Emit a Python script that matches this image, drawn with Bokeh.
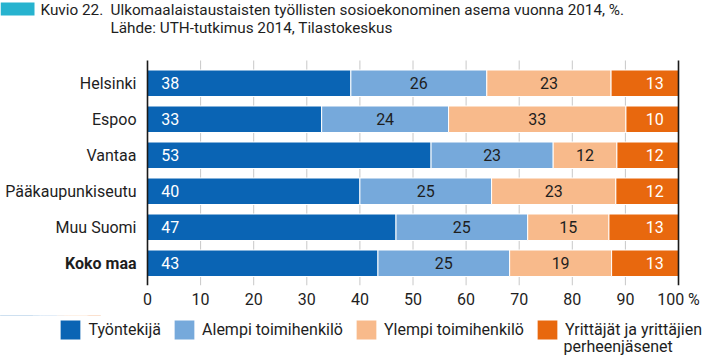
from bokeh.plotting import figure
from bokeh.layouts import column
from bokeh.models import (ColumnDataSource, Range1d, FixedTicker, Legend, LegendItem,
                          BoxAnnotation)
from bokeh.core.properties import value
from bokeh.embed import file_html
from bokeh.resources import INLINE

# ---------------- data ----------------
categories = ["Helsinki", "Espoo", "Vantaa", "Pääkaupunkiseutu", "Muu Suomi", "Koko maa"]
tyontekija = [38.3, 32.8, 53.4, 40.0, 46.8, 43.4]
alempi = [25.6, 23.9, 23.0, 24.8, 24.8, 24.8]
ylempi = [23.4, 33.4, 12.0, 23.4, 15.3, 19.2]
yrittajat = [12.7, 9.9, 11.6, 11.8, 13.1, 12.6]
series_labels = ["Työntekijä", "Alempi toimihenkilö", "Ylempi toimihenkilö",
                 "Yrittäjät ja yrittäjien", "perheenjäsenet"]
x_ticks = [0, 10, 20, 30, 40, 50, 60, 70, 80, 90, 100]
x_tick_labels = ["0", "10", "20", "30", "40", "50", "60", "70", "80", "90", "100 %"]
title_no = "Kuvio 22."
title_text = "Ulkomaalaistaustaisten työllisten sosioekonominen asema vuonna 2014, %."
source_text = "Lähde: UTH-tutkimus 2014, Tilastokeskus"
bold_category = "Koko maa"

# ---------------- style ----------------
colors = ["#0a64b4", "#76a9db", "#f8ba8b", "#e8680e"]
label_colors = ["white", "#1e1e1e", "#1e1e1e", "white"]
FONT = "Roboto"
FS = "16px"
TFS = "15.3px"
TXT = "#1e1e1e"

W, H = 703, 355
MAIN_H = 315
FL, FR, FT, FB = 147, 678, 60, 285          # chart area edges in pixels
Y_LO, Y_HI = -0.618, 5.632
XPU = (FR - FL) / 100.0
YPU = (FB - FT) / (Y_HI - Y_LO)


def dx(px):
    return (px - FL) / XPU


def dy(py):
    return Y_LO + (FB - py) / YPU


n = len(categories)
ys = [n - 1 - i for i in range(n)]
series = [tyontekija, alempi, ylempi, yrittajat]
keys = ["s0", "s1", "s2", "s3"]
src = ColumnDataSource(dict(y=ys, cat=categories, **{k: v for k, v in zip(keys, series)}))

p = figure(width=W, height=MAIN_H, output_backend="svg", toolbar_location=None,
           x_range=Range1d(dx(0), dx(W)), y_range=Range1d(Y_LO, dy(0)), title=None,
           y_axis_location=None,
           min_border_left=0, min_border_right=0, min_border_top=0,
           min_border_bottom=MAIN_H - FB)
p.outline_line_color = None
p.background_fill_color = "white"
p.border_fill_color = "white"
p.xgrid.visible = False
p.ygrid.visible = False

# grid lines (between the axis lines) and the 0 / 100 lines
inner = x_ticks[1:-1]
p.segment(x0=inner, y0=[Y_LO] * len(inner), x1=inner, y1=[Y_HI] * len(inner),
          line_color="#c8c8c8", line_width=1)

renderers = p.hbar_stack(keys, y="y", height=0.736, color=colors, line_color="white",
                         line_width=1, source=src)

edges = [x_ticks[0], x_ticks[-1]]
p.segment(x0=edges, y0=[Y_LO] * 2, x1=edges, y1=[Y_HI] * 2,
          line_color="#1a1a1a", line_width=1.6)

# value labels
left = [0.0] * n
for i, vals in enumerate(series):
    xs = []
    for j in range(n):
        l0 = left[j]
        r0 = l0 + vals[j]
        if i == 0:
            xs.append(l0 + 2.6)
        elif i == len(series) - 1:
            xs.append(100 - 2.8)
        else:
            xs.append((l0 + r0) / 2)
        left[j] = r0
    align = "left" if i == 0 else ("right" if i == len(series) - 1 else "center")
    p.text(x=xs, y=ys, text=[str(int(v + 0.5)) for v in vals], text_align=align,
           text_baseline="middle", text_color=label_colors[i],
           text_font=value(FONT), text_font_size=value(FS))

# category labels
cat_x = dx(136)
normal = [(y, c) for y, c in zip(ys, categories) if c != bold_category]
bold = [(y, c) for y, c in zip(ys, categories) if c == bold_category]
p.text(x=[cat_x] * len(normal), y=[y for y, _ in normal], text=[c for _, c in normal],
       text_align="right", text_baseline="middle", text_color=TXT,
       text_font=value(FONT), text_font_size=value(FS))
p.text(x=[cat_x] * len(bold), y=[y for y, _ in bold], text=[c for _, c in bold],
       text_align="right", text_baseline="middle", text_color=TXT,
       text_font=value(FONT), text_font_size=value(FS), text_font_style="bold")

# x axis
xa = p.xaxis[0]
xa.ticker = FixedTicker(ticks=x_ticks)
xa.major_label_overrides = {t: l for t, l in zip(x_ticks, x_tick_labels)}
xa.axis_line_color = None
xa.major_tick_line_color = None
xa.minor_tick_line_color = None
xa.major_tick_out = 0
xa.major_tick_in = 0
xa.major_label_standoff = 4
xa.major_label_text_font = FONT
xa.major_label_text_font_size = FS
xa.major_label_text_color = TXT

# title
p.add_layout(BoxAnnotation(left=dx(0), right=dx(34), top=dy(2), bottom=dy(15),
                           fill_color="#27b3cf", fill_alpha=1, line_color=None))
p.text(x=[dx(40), dx(110), dx(110)], y=[dy(9.5), dy(9.5), dy(27.5)],
       text=[title_no, title_text, source_text], text_baseline="middle",
       text_align="left", text_color=TXT, text_font=value(FONT), text_font_size=value(TFS))

# ---------------- legend strip ----------------
lg = figure(width=W, height=H - MAIN_H, output_backend="svg", toolbar_location=None,
            x_range=Range1d(0, W), y_range=Range1d(H, MAIN_H), title=None,
            x_axis_location=None, y_axis_location=None,
            min_border_left=0, min_border_right=0, min_border_top=0, min_border_bottom=0)
lg.outline_line_color = None
lg.xgrid.visible = False
lg.ygrid.visible = False
# same stacked bars (they fall outside this strip's range); used only as legend keys
keys_r = lg.hbar_stack(keys, y="y", height=0.736, color=colors, line_color="white",
                       line_width=1, source=src)
leg = Legend(items=[LegendItem(label=series_labels[i], renderers=[keys_r[i]])
                    for i in range(4)],
             location=(57.4, H - 341.5), orientation="horizontal",
             padding=0, margin=0, spacing=10, border_line_color=None,
             background_fill_alpha=0, glyph_width=26, glyph_height=25,
             label_standoff=5, label_text_font=FONT, label_text_font_size=FS,
             label_text_color=TXT)
lg.add_layout(leg, "center")
lg.text(x=[563], y=[346], text=[series_labels[4]], text_baseline="middle",
        text_align="left", text_color=TXT, text_font=value(FONT), text_font_size=value(FS))

open("out.html", "w").write(file_html(column(p, lg, spacing=0), INLINE))
